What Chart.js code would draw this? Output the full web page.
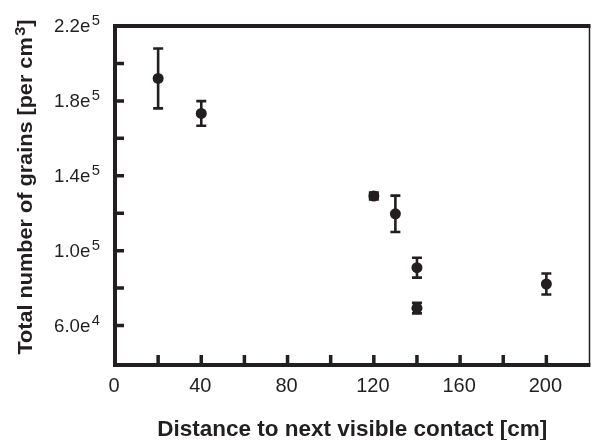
<!DOCTYPE html>
<html>
<head>
<meta charset="utf-8">
<script src="https://cdn.jsdelivr.net/npm/chart.js@4.4.1/dist/chart.umd.min.js"></script>
<style>
  html, body { margin: 0; padding: 0; background: #fff; }
  #wrap { width: 595px; height: 440px; }
</style>
</head>
<body>
<div id="wrap"><canvas id="grains"></canvas></div>
<script>
// distance to next visible contact [cm]
const distance = [20, 40, 120, 130, 140, 140, 200]
// grains per cm3 and their error (half-length of the bar)
const grains = [192000, 173300, 129200, 119700, 90900, 69300, 82200]
const grainsErr = [16000, 6600, 1800, 9700, 5300, 2800, 5600]

// y tick labels as mantissa / exponent pairs
const yLabelValues = [60000, 100000, 140000, 180000, 220000]
const yLabelText = [['6.0e', '4'], ['1.0e', '5'], ['1.4e', '5'], ['1.8e', '5'], ['2.2e', '5']]
const xLabelValues = [0, 40, 80, 120, 160, 200]

const ink = '#231f20'
const font = 'Liberation Sans, Arial, Helvetica, sans-serif'

// pieces: [text, isSuperscript]; drawn left to right from the anchor,
// squeezed horizontally to the given width when one is passed
const richText = (ctx, pieces, x, y, size, supSize, weight, align, width) => {
  const widths = pieces.map(([t, sup]) => {
    ctx.font = `${weight} ${sup ? supSize : size}px ${font}`
    return ctx.measureText(t).width + (sup ? 1.5 : 0)
  })
  const total = widths.reduce((s, w) => s + w, 0)
  const sx = width ? width / total : 1
  ctx.save()
  ctx.translate(x, y)
  ctx.scale(sx, 1)
  let pos = 0
  if (align === 'right') pos = -total
  if (align === 'center') pos = -total / 2
  ctx.textAlign = 'left'
  ctx.textBaseline = 'alphabetic'
  pieces.forEach(([t, sup], i) => {
    ctx.font = `${weight} ${sup ? supSize : size}px ${font}`
    ctx.fillText(t, pos + (sup ? 1.5 : 0), sup ? -size * 0.36 : 0)
    pos += widths[i]
  })
  ctx.restore()
}

// frame, inward ticks, labels, titles and error bars
const axesPlugin = {
  id: 'axesPlugin',
  beforeDatasetsDraw (chart) {
    const { ctx, scales: { x, y } } = chart
    ctx.save()
    ctx.strokeStyle = ink
    ctx.lineWidth = 2.6
    distance.forEach((d, i) => {
      const px = x.getPixelForValue(d)
      const top = y.getPixelForValue(grains[i] + grainsErr[i])
      const bot = y.getPixelForValue(grains[i] - grainsErr[i])
      ctx.beginPath()
      ctx.moveTo(px, top)
      ctx.lineTo(px, bot)
      ctx.moveTo(px - 5, top)
      ctx.lineTo(px + 5, top)
      ctx.moveTo(px - 5, bot)
      ctx.lineTo(px + 5, bot)
      ctx.stroke()
    })
    ctx.restore()
  },
  afterDraw (chart) {
    const { ctx, chartArea: a, scales: { x, y } } = chart
    ctx.save()
    ctx.fillStyle = ink
    ctx.strokeStyle = ink

    // frame: heavy left, bottom and top, thin right
    ctx.lineWidth = 1.5
    ctx.beginPath()
    ctx.moveTo(a.right, a.top)
    ctx.lineTo(a.right, a.bottom)
    ctx.stroke()
    ctx.lineWidth = 4
    ctx.beginPath()
    ctx.moveTo(a.left, a.top)
    ctx.lineTo(a.right + 1, a.top)
    ctx.moveTo(a.left, a.top - 2)
    ctx.lineTo(a.left, a.bottom + 2)
    ctx.lineTo(a.right + 1, a.bottom + 2)
    ctx.stroke()

    // inward ticks every 20 on x, every 2e4 on y
    ctx.lineWidth = 3.5
    ctx.beginPath()
    for (let v = 20; v <= 200; v += 20) {
      const px = x.getPixelForValue(v)
      ctx.moveTo(px, a.bottom)
      ctx.lineTo(px, a.bottom - 8)
    }
    for (let v = 60000; v <= 200000; v += 20000) {
      const py = y.getPixelForValue(v)
      ctx.moveTo(a.left, py)
      ctx.lineTo(a.left + 9, py)
    }
    ctx.stroke()

    // tick labels
    ctx.font = `20px ${font}`
    ctx.textAlign = 'center'
    ctx.textBaseline = 'alphabetic'
    xLabelValues.forEach((v) => {
      ctx.fillText(String(v), x.getPixelForValue(v) - 1, a.bottom + 29)
    })
    yLabelValues.forEach((v, i) => {
      richText(ctx, [[yLabelText[i][0], false], [yLabelText[i][1], true]],
        100, y.getPixelForValue(v) + 6, 19, 15, 'normal', 'right', 46)
    })

    // axis titles
    richText(ctx, [['Distance to next visible contact [cm]', false]],
      (a.left + a.right) / 2, 436, 22.5, 14, 'bold', 'center')
    ctx.save()
    ctx.translate(32, 187)
    ctx.rotate(-Math.PI / 2)
    richText(ctx, [['Total number of grains [per cm', false], ['3', true], [']', false]],
      0, 0, 20, 15, 'bold', 'center', 335)
    ctx.restore()

    ctx.restore()
  }
}

const chart = new Chart(document.getElementById('grains'), {
  type: 'scatter',
  data: {
    datasets: [{
      data: distance.map((d, i) => ({ x: d, y: grains[i] })),
      pointRadius: 5.5,
      pointHoverRadius: 5.5,
      backgroundColor: ink,
      borderColor: ink,
      borderWidth: 0
    }]
  },
  options: {
    responsive: true,
    maintainAspectRatio: false,
    animation: false,
    events: [],
    layout: { padding: { left: 115, top: 26, right: 2, bottom: 77 } },
    plugins: { legend: { display: false }, tooltip: { enabled: false } },
    scales: {
      x: { type: 'linear', min: 0, max: 220, display: false },
      y: { type: 'linear', min: 40000, max: 220000, display: false }
    }
  },
  plugins: [axesPlugin]
})
window.chart = chart // keeps a handle for debugging in the console
</script>
</body>
</html>
